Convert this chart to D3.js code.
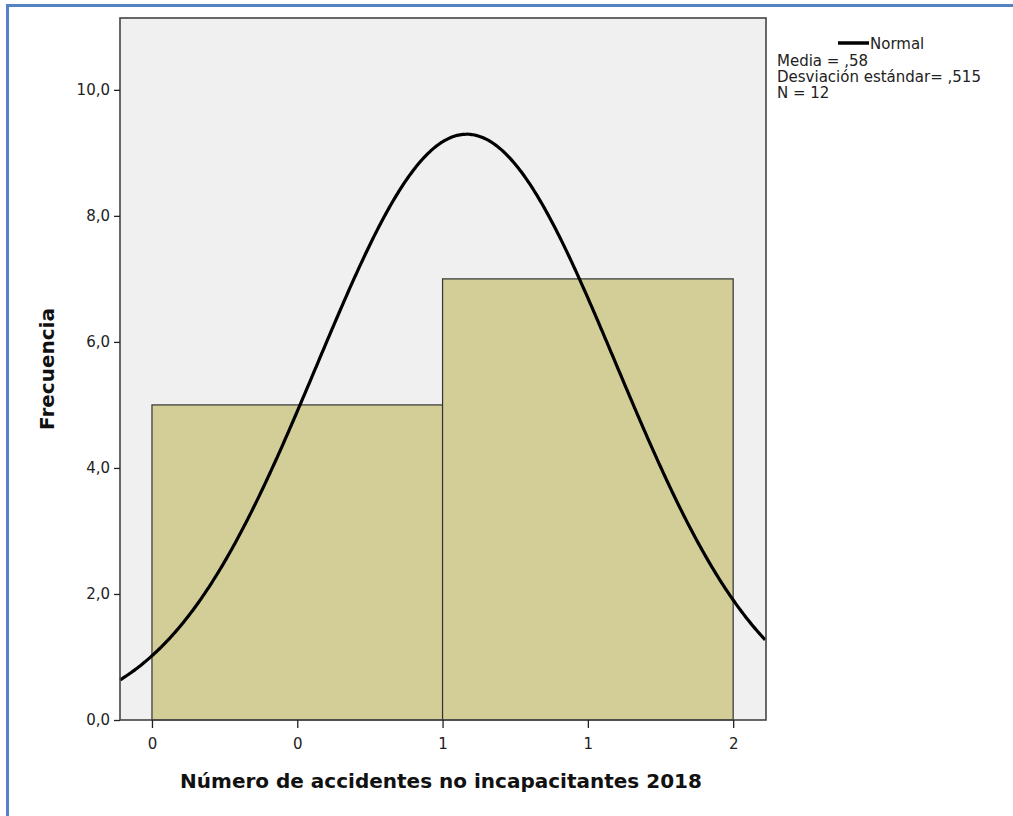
<!doctype html>
<html lang="es">
<head>
<meta charset="utf-8">
<script src="https://d3js.org/d3.v7.min.js"></script>
<style>
  body { margin: 0; background: #fff; }
  text { font-family: "DejaVu Sans", sans-serif; fill: #222; }
</style>
</head>
<body>
<div id="chart"></div>
<script>
// histogram bins (bin edges in data units) and counts
var binStart = [-0.5, 0.5];
var binEnd = [0.5, 1.5];
var counts = [5, 7];

// tick values and the labels SPSS printed
var xTicks = [-0.5, 0, 0.5, 1, 1.5];
var xTickLabels = ["0", "0", "1", "1", "2"];
var yTicks = [0, 2, 4, 6, 8, 10];

// normal curve parameters from the legend
var media = 0.583, desv = 0.515, n = 12, binWidth = 1;
var legendLines = ["Media = ,58", "Desviación estándar= ,515", "N = 12"];

var W = 1013, H = 816;
var plot = { left: 120, top: 18, right: 766, bottom: 720 };

var svg = d3.select("#chart").append("svg")
    .attr("width", W)
    .attr("height", H);

// blue frame of the screenshot
svg.append("line").attr("x1", 6).attr("x2", W).attr("y1", 5.5).attr("y2", 5.5)
    .attr("stroke", "#5482c4").attr("stroke-width", 3);
svg.append("line").attr("x1", 7.5).attr("x2", 7.5).attr("y1", 4).attr("y2", H)
    .attr("stroke", "#5482c4").attr("stroke-width", 3);

var x = d3.scaleLinear()
    .domain([-0.61, 1.613])
    .range([plot.left, plot.right]);
var y = d3.scaleLinear()
    .domain([0, 11.14])
    .range([plot.bottom, plot.top]);

// plot background
svg.append("rect")
    .attr("x", plot.left).attr("y", plot.top)
    .attr("width", plot.right - plot.left).attr("height", plot.bottom - plot.top)
    .attr("fill", "#f0f0f0");

// bars
svg.selectAll(".bar").data(counts).enter().append("rect")
    .attr("class", "bar")
    .attr("x", function (d, i) { return x(binStart[i]); })
    .attr("width", function (d, i) { return x(binEnd[i]) - x(binStart[i]); })
    .attr("y", function (d) { return y(d); })
    .attr("height", function (d) { return y(0) - y(d); })
    .attr("fill", "#d3ce98")
    .attr("stroke", "#333")
    .attr("stroke-width", 1.2);

// normal curve scaled to counts
var curve = d3.range(x.domain()[0], x.domain()[1] + 0.001, 0.005).map(function (v) {
    var z = (v - media) / desv;
    return { v: v, f: n * binWidth * Math.exp(-0.5 * z * z) / (desv * Math.sqrt(2 * Math.PI)) };
});
svg.append("path")
    .datum(curve)
    .attr("fill", "none")
    .attr("stroke", "#000")
    .attr("stroke-width", 3.2)
    .attr("d", d3.line()
        .x(function (d) { return x(d.v); })
        .y(function (d) { return y(d.f); }));

// plot frame
svg.append("rect")
    .attr("x", plot.left).attr("y", plot.top)
    .attr("width", plot.right - plot.left).attr("height", plot.bottom - plot.top)
    .attr("fill", "none")
    .attr("stroke", "#444")
    .attr("stroke-width", 1.6);

// axes
var yAxis = svg.append("g")
    .attr("transform", "translate(" + plot.left + ",0)")
    .call(d3.axisLeft(y).tickValues(yTicks).tickSize(6).tickPadding(4)
        .tickFormat(function (d) { return d3.format(".1f")(d).replace(".", ","); }));
yAxis.select(".domain").remove();
yAxis.selectAll("text").style("font-size", "15px").style("fill", "#222");
yAxis.selectAll("line").attr("stroke", "#222").attr("stroke-width", 1.3);

var xAxis = svg.append("g")
    .attr("transform", "translate(0," + plot.bottom + ")")
    .call(d3.axisBottom(x).tickValues(xTicks).tickSize(8).tickPadding(10)
        .tickFormat(function (d, i) { return xTickLabels[i]; }));
xAxis.select(".domain").remove();
xAxis.selectAll("text").style("font-size", "15px").style("fill", "#222");
xAxis.selectAll("line").attr("stroke", "#222").attr("stroke-width", 1.3);

// axis titles
svg.append("text")
    .attr("x", (plot.left + plot.right) / 2 - 2)
    .attr("y", 788)
    .attr("text-anchor", "middle")
    .style("font-size", "20px")
    .style("font-weight", "bold")
    .style("fill", "#111")
    .text("Número de accidentes no incapacitantes 2018");

svg.append("text")
    .attr("transform", "translate(54,369) rotate(-90)")
    .attr("text-anchor", "middle")
    .style("font-size", "20px")
    .style("font-weight", "bold")
    .style("fill", "#111")
    .text("Frecuencia");

// legend
svg.append("line")
    .attr("x1", 838).attr("x2", 869).attr("y1", 43).attr("y2", 43)
    .attr("stroke", "#000").attr("stroke-width", 3.5);
svg.append("text")
    .attr("x", 870).attr("y", 49)
    .style("font-size", "15px")
    .text("Normal");
svg.selectAll(".leg").data(legendLines).enter().append("text")
    .attr("class", "leg")
    .attr("x", 777)
    .attr("y", function (d, i) { return 66 + i * 16; })
    .style("font-size", "15px")
    .text(function (d) { return d; });
</script>
</body>
</html>
